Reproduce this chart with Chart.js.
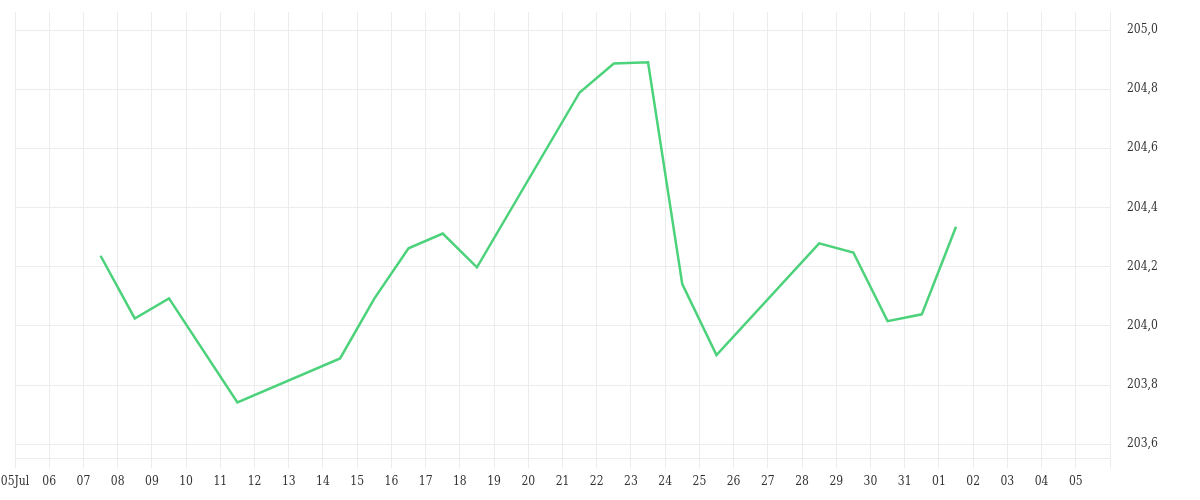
<!DOCTYPE html>
<html>
<head>
<meta charset="utf-8">
<title>Chart</title>
<script src="https://cdn.jsdelivr.net/npm/chart.js@4.4.1/dist/chart.umd.min.js"></script>
<style>
  html, body { margin: 0; padding: 0; background: #fff; }
  #wrap { width: 1200px; height: 500px; }
</style>
</head>
<body>
<div id="wrap"><canvas id="myChart" width="1200" height="500"></canvas></div>
<script>
// x = days since 05 Jul (midday readings)
const dayOffsets = [2.5, 3.5, 4.5, 6.5, 9.5, 10.5, 11.5, 12.5, 13.5, 16.5, 17.5, 18.5, 19.5, 20.5, 23.5, 24.5, 25.5, 26.5, 27.5];
const prices = [204.237, 204.025, 204.093, 203.741, 203.890, 204.092, 204.262, 204.312, 204.198,
                204.789, 204.887, 204.891, 204.141, 203.901, 204.279, 204.248, 204.016, 204.039, 204.335];
const dayLabels = ['05Jul', '06', '07', '08', '09', '10', '11', '12', '13', '14', '15', '16', '17', '18', '19', '20',
                   '21', '22', '23', '24', '25', '26', '27', '28', '29', '30', '31', '01', '02', '03', '04', '05', ''];
const yTicks = [203.6, 203.8, 204.0, 204.2, 204.4, 204.6, 204.8, 205.0];

const gridColor = '#ececec';
const textColor = '#333333';
const fontFamily = '"DejaVu Serif Condensed", "DejaVu Serif", serif';

const ctx = document.getElementById('myChart');

new Chart(ctx, {
    type: 'line',
    data: {
        datasets: [{
            data: dayOffsets.map((d, i) => ({ x: d, y: prices[i] })),
            borderColor: '#4cd27b',
            borderWidth: 2.5,
            pointRadius: 0,
            tension: 0,
            fill: false
        }]
    },
    options: {
        responsive: false,
        animation: false,
        layout: { padding: { top: 12, left: 15, right: 0, bottom: 3.5 } },
        plugins: {
            legend: { display: false },
            tooltip: { enabled: false }
        },
        scales: {
            x: {
                type: 'linear',
                min: 0,
                max: dayLabels.length - 1,
                afterFit: (scale) => { scale.paddingLeft = 0; scale.paddingRight = 0; },
                grid: { color: gridColor, tickLength: 10, drawTicks: true },
                border: { color: gridColor },
                ticks: {
                    stepSize: 1,
                    autoSkip: false,
                    maxRotation: 0,
                    padding: 7,
                    color: textColor,
                    font: { family: fontFamily, size: 12 },
                    callback: (v) => dayLabels[v] ?? ''
                }
            },
            y: {
                position: 'right',
                min: 203.553,
                max: 205.061,
                afterBuildTicks: (scale) => {
                    scale.ticks = yTicks.map(v => ({ value: v }));
                },
                afterFit: (scale) => { scale.width = 90; scale.paddingTop = 0; scale.paddingBottom = 0; },
                grid: { color: gridColor, drawTicks: false },
                border: { display: false },
                ticks: {
                    padding: 17,
                    color: textColor,
                    font: { family: fontFamily, size: 12 },
                    callback: (v) => v.toFixed(1).replace('.', ',')
                }
            }
        }
    }
});
</script>
</body>
</html>
